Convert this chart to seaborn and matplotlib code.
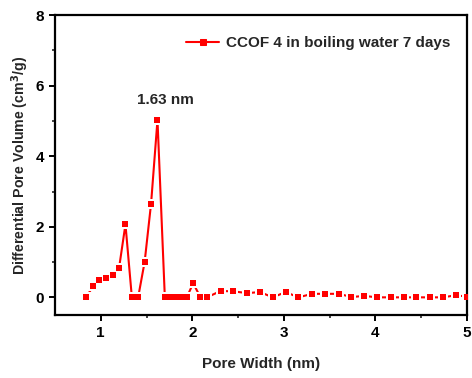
import matplotlib
matplotlib.use("Agg")
import matplotlib.pyplot as plt
import seaborn as sns
import pandas as pd

# Pore size distribution data
pore_width = [0.84, 0.915, 0.985, 1.055, 1.13, 1.20, 1.27, 1.34, 1.41, 1.48,
              1.55, 1.62, 1.70, 1.74, 1.78, 1.82, 1.86, 1.90, 1.94, 2.01,
              2.09, 2.16, 2.31, 2.45, 2.60, 2.74, 2.88, 3.02, 3.16, 3.31,
              3.45, 3.60, 3.74, 3.88, 4.02, 4.17, 4.31, 4.45, 4.60, 4.74,
              4.88, 5.00]
pore_volume = [0.0, 0.31, 0.49, 0.56, 0.62, 0.83, 2.07, 0.0, 0.02, 1.01,
               2.66, 5.03, 0.02, 0.0, 0.0, 0.0, 0.0, 0.0, 0.0, 0.40,
               0.0, 0.0, 0.18, 0.17, 0.12, 0.15, 0.0, 0.15, 0.0, 0.10,
               0.10, 0.10, 0.01, 0.04, 0.0, 0.0, 0.0, 0.0, 0.0, 0.0,
               0.06, 0.02]
series_label = "CCOF 4 in boiling water 7 days"
peak_label = "1.63 nm"

df = pd.DataFrame({"width": pore_width, "volume": pore_volume})

sns.set_style("ticks")
plt.rcParams['font.family'] = ['Liberation Sans', 'DejaVu Sans']
plt.rcParams['font.weight'] = 'bold'
plt.rcParams['axes.labelweight'] = 'bold'

fig, ax = plt.subplots(figsize=(4.72, 3.78), dpi=100)
fig.subplots_adjust(left=0.1165, right=0.989, bottom=0.1667, top=0.960)

# line + markers (for legend), then white halo, then red markers on top
sns.lineplot(data=df, x="width", y="volume", ax=ax, color="red", lw=1.5,
             marker="s", markersize=4.5, markeredgecolor="red",
             label=series_label, zorder=1)
ax.scatter(df["width"], df["volume"], marker="s", s=50, color="white",
           linewidths=0, zorder=2)
sns.scatterplot(data=df, x="width", y="volume", ax=ax, marker="s", s=21,
                color="red", edgecolor="red", linewidth=0, zorder=3,
                legend=False)

ax.text(1.71, 5.6, peak_label, ha="center", va="center", fontsize=11,
        fontweight="bold")

ax.set_xlim(0.5, 5)
ax.set_ylim(-0.5, 8)
ax.set_xticks([1, 2, 3, 4, 5])
ax.set_xticks([1.5, 2.5, 3.5, 4.5], minor=True)
ax.set_yticks([0, 2, 4, 6, 8])
ax.set_yticks([1, 3, 5, 7], minor=True)
ax.set_xlabel("Pore Width (nm)", fontsize=11, fontweight="bold", labelpad=12)
ax.set_ylabel("Differential Pore Volume (cm$^\\mathbf{3}$/g)", fontsize=10.2,
              fontweight="bold", labelpad=3)

for s in ax.spines.values():
    s.set_linewidth(1.6)
    s.set_color("black")
ax.tick_params(which="major", direction="out", length=4, width=1.4,
               labelsize=11, colors="black", pad=4)
ax.tick_params(which="minor", direction="out", length=2.5, width=1.2)
for lab in ax.get_xticklabels() + ax.get_yticklabels():
    lab.set_fontweight("bold")

leg = ax.legend(loc="upper right", frameon=False, fontsize=11,
                handlelength=2.2, borderaxespad=0.3, handletextpad=0.4,
                bbox_to_anchor=(0.985, 0.965))
for t in leg.get_texts():
    t.set_fontweight("bold")

fig.savefig("out.png", dpi=100)
